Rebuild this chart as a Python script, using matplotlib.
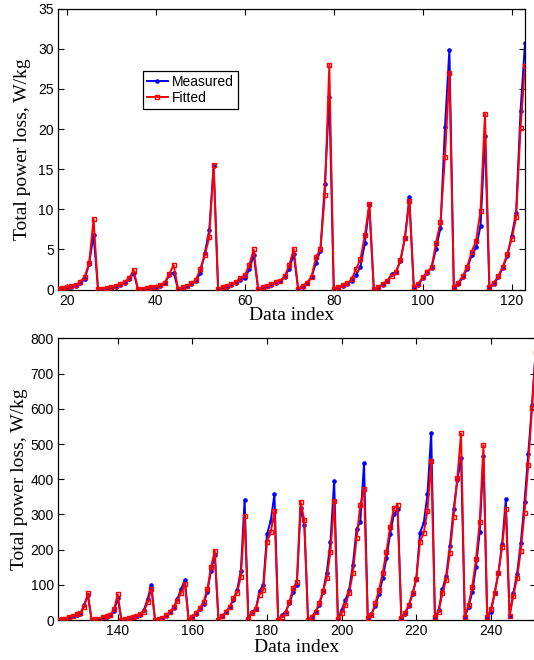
import numpy as np
import matplotlib
matplotlib.use("Agg")
import matplotlib.pyplot as plt

# ---------------- data ----------------
top_start, top_end = 18, 123
bottom_start, bottom_end = 124, 252

measured_top = [
    0.05, 0.1, 0.2, 0.3, 0.45, 0.75, 1.3, 3.2, 6.8,
    0.02, 0.08, 0.15, 0.22, 0.35, 0.55, 0.8, 1.3, 2.0,
    0.02, 0.08, 0.15, 0.22, 0.3, 0.45, 0.75, 1.8, 2.1,
    0.05, 0.2, 0.4, 0.65, 1.0, 2.1, 4.5, 7.4, 15.4,
    0.05, 0.2, 0.35, 0.55, 0.8, 1.2, 1.4, 2.5, 4.3,
    0.05, 0.2, 0.4, 0.6, 0.85, 1.0, 1.6, 2.6, 4.4,
    0.05, 0.35, 0.75, 1.5, 3.35, 4.85, 13.1, 24.0,
    0.05, 0.2, 0.45, 0.7, 1.1, 1.8, 2.85, 5.76, 10.5,
    0.05, 0.2, 0.6, 1.0, 1.9, 2.2, 3.6, 6.4, 11.5,
    0.15, 0.6, 1.4, 2.1, 2.7, 5.1, 7.7, 20.2, 29.9,
    0.15, 0.7, 1.5, 2.6, 4.26, 5.26, 7.9, 19.1,
    0.15, 0.7, 1.5, 2.7, 4.2, 6.67, 9.58, 22.3, 30.7,
]
fitted_top = [
    0.05, 0.15, 0.27, 0.4, 0.56, 0.97, 1.6, 3.3, 8.8,
    0.02, 0.1, 0.19, 0.27, 0.44, 0.65, 0.97, 1.4, 2.43,
    0.02, 0.1, 0.19, 0.27, 0.36, 0.52, 0.85, 1.9, 3.05,
    0.1, 0.27, 0.47, 0.77, 1.18, 2.6, 4.26, 6.5, 15.5,
    0.1, 0.27, 0.44, 0.65, 0.94, 1.43, 1.77, 3.05, 5.0,
    0.1, 0.27, 0.44, 0.69, 0.94, 1.1, 1.68, 3.05, 5.05,
    0.1, 0.44, 0.85, 1.6, 4.0, 5.1, 11.8, 28.0,
    0.1, 0.27, 0.52, 0.77, 1.27, 2.52, 3.77, 6.8, 10.7,
    0.1, 0.27, 0.69, 1.1, 1.68, 2.22, 3.68, 6.46, 11.0,
    0.3, 0.72, 1.52, 2.22, 2.77, 5.84, 8.46, 16.5, 27.0,
    0.31, 0.85, 1.68, 2.85, 4.68, 6.09, 9.83, 21.9,
    0.31, 0.85, 1.68, 2.85, 4.39, 6.26, 9.0, 20.1, 27.9,
]
measured_bottom = [
    0.5, 1.5, 3, 6, 10, 15, 18, 43, 70,
    0.5, 1.5, 3, 6, 9, 13, 25, 62,
    0.5, 1.5, 4, 6.5, 10, 14, 28, 59, 100,
    0.5, 2, 5, 12, 22, 34, 60, 88, 114,
    0.5, 8, 18, 30, 45, 80, 140, 185,
    1, 10, 22, 36, 58, 85, 140, 342,
    3, 24, 30, 83, 99, 244, 282, 358,
    0.5, 14, 24, 47, 80, 99, 317, 270,
    0.5, 8, 22, 44, 80, 134, 222, 396,
    3, 28, 57, 85, 156, 258, 279, 445,
    5, 17, 40, 73, 118, 175, 244, 301, 314,
    5, 18, 40, 74, 116, 248, 276, 358, 532,
    8, 28, 87, 125, 210, 314, 398, 459,
    9.5, 36, 80, 150, 251, 466,
    9.5, 24, 76, 133, 216, 343,
    12, 76, 131, 218, 334, 473, 610, 770,
]
fitted_bottom = [
    0.5, 2, 4, 8, 12, 17, 20, 37, 76,
    0.5, 2, 4, 7.6, 10, 15, 30, 73,
    0.5, 2, 4.7, 7.6, 11.4, 16, 24, 50, 88,
    0.5, 2, 5.7, 13, 24, 36, 55, 78, 103,
    0.5, 9.5, 21, 33, 52, 87, 150, 197,
    1, 11, 24, 38, 62, 78, 123, 296,
    3, 21, 31, 72, 85, 222, 249, 310,
    0.5, 9.5, 21, 52, 90, 109, 336, 284,
    0.5, 9.5, 24, 47, 83, 118, 194, 339,
    3, 19, 43, 76, 133, 232, 327, 371,
    5, 14, 47, 85, 134, 194, 265, 317, 327,
    5, 21, 43, 76, 116, 222, 248, 311, 453,
    8, 24, 76, 114, 191, 294, 404, 530,
    9.5, 43, 95, 172, 278, 497,
    9.5, 30, 76, 133, 208, 314,
    12, 69, 118, 197, 305, 440, 601, 762,
]
top_xticks = [20, 40, 60, 80, 100, 120]
top_yticks = [0, 5, 10, 15, 20, 25, 30, 35]
bottom_xticks = [140, 160, 180, 200, 220, 240]
bottom_yticks = [0, 100, 200, 300, 400, 500, 600, 700, 800]
series_labels = ["Measured", "Fitted"]
xlabel_text = "Data index"
ylabel_text = "Total power loss, W/kg"

# ---------------- figure ----------------
W, H = 534, 660
fig = plt.figure(figsize=(W / 100, H / 100), dpi=100)

sans = "Liberation Sans"
serif = "Liberation Serif"


def px_axes(l, t, r, b):
    return [l / W, 1 - b / H, (r - l) / W, (b - t) / H]


ax1 = fig.add_axes(px_axes(58, 8.8, 525, 289.5))
ax2 = fig.add_axes(px_axes(58, 338.4, 535.7, 620))


def draw(ax, idx, meas, fit, xlim, ylim, xticks, yticks, legend=False):
    ax.plot(idx, meas, color=(0, 0, 1), lw=1.4, marker="o", ms=2.3,
            mfc=(0, 0, 1), mec=(0, 0, 1), label=series_labels[0], zorder=2)
    ax.plot(idx, fit, color=(1, 0, 0), lw=1.4, marker="s", ms=2.9,
            mfc="none", mec=(1, 0, 0), mew=1.0, label=series_labels[1], zorder=3)
    ax.set_xlim(*xlim)
    ax.set_ylim(*ylim)
    ax.set_xticks(xticks)
    ax.set_yticks(yticks)
    ax.tick_params(direction="in", top=True, right=True, length=4, width=0.8,
                   labelsize=10, pad=3)
    for lab in ax.get_xticklabels() + ax.get_yticklabels():
        lab.set_fontfamily(sans)
    for s in ax.spines.values():
        s.set_linewidth(0.9)
    ax.set_xlabel(xlabel_text, fontfamily=serif, fontsize=14)
    ax.set_ylabel(ylabel_text, fontfamily=serif, fontsize=14)
    if legend:
        leg = ax.legend(loc="upper left", bbox_to_anchor=(0.181, 0.7795),
                        borderaxespad=0, fancybox=False, edgecolor="black",
                        framealpha=1, handlelength=1.5, handletextpad=0.3,
                        borderpad=0.3, labelspacing=0.15,
                        prop={"family": sans, "size": 10})
        leg.get_frame().set_linewidth(0.9)


idx_top = np.arange(top_start, top_end + 1)
idx_bottom = np.arange(bottom_start, bottom_end + 1)

draw(ax1, idx_top, measured_top, fitted_top, (18, 123), (0, 35),
     top_xticks, top_yticks, legend=True)
draw(ax2, idx_bottom, measured_bottom, fitted_bottom, (124, 252), (0, 800),
     bottom_xticks, bottom_yticks)

ax1.yaxis.set_label_coords(-(58 - 31) / 467, 0.5)
ax1.xaxis.set_label_coords(0.5, -0.062)
ax2.yaxis.set_label_coords(-(58 - 28) / 477.7, 0.5)
ax2.xaxis.set_label_coords(0.5, -0.066)

fig.savefig("out.png", dpi=100)
